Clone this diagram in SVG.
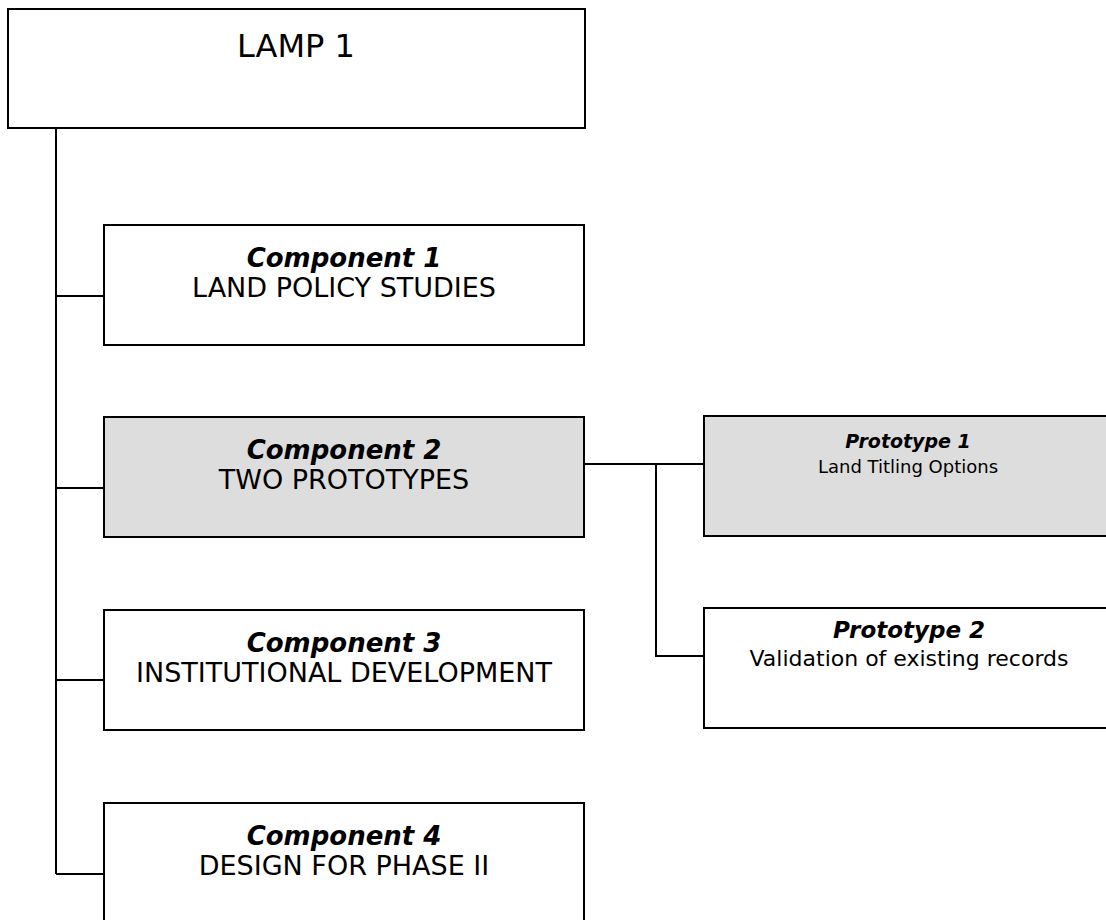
<svg xmlns="http://www.w3.org/2000/svg" width="1106" height="920" viewBox="0 0 1106 920">
<style>
.box{fill:#ffffff;stroke:#000;stroke-width:2}
.gray{fill:#dddddd;stroke:#000;stroke-width:2}
.ln{stroke:#000;stroke-width:2;fill:none}
text{font-family:"DejaVu Sans",sans-serif;fill:#000;text-anchor:middle}
.t{font-size:26px;font-weight:bold;font-style:italic}
.s{font-size:27px}
</style>
<rect width="1106" height="920" fill="#fff"/>
<g id="connectors">
<path class="ln" d="M56 128 V874"/>
<path class="ln" d="M56 296 H104"/>
<path class="ln" d="M56 488 H104"/>
<path class="ln" d="M56 680 H104"/>
<path class="ln" d="M56 874 H104"/>
<path class="ln" d="M584 464 H704"/>
<path class="ln" d="M656 464 V656 H704"/>
</g>
<g id="lamp1">
<rect class="box" x="8" y="9" width="577" height="119"/>
<text x="296" y="57" style="font-size:32px">LAMP 1</text>
</g>
<g id="component1">
<rect class="box" x="104" y="225" width="480" height="120"/>
<text class="t" x="344" y="267">Component 1</text>
<text class="s" x="344" y="297">LAND POLICY STUDIES</text>
</g>
<g id="component2">
<rect class="gray" x="104" y="417" width="480" height="120"/>
<text class="t" x="344" y="459">Component 2</text>
<text class="s" x="344" y="489">TWO PROTOTYPES</text>
</g>
<g id="component3">
<rect class="box" x="104" y="610" width="480" height="120"/>
<text class="t" x="344" y="652">Component 3</text>
<text class="s" x="344" y="682">INSTITUTIONAL DEVELOPMENT</text>
</g>
<g id="component4">
<rect class="box" x="104" y="803" width="480" height="130"/>
<text class="t" x="344" y="845">Component 4</text>
<text class="s" x="344" y="875">DESIGN FOR PHASE II</text>
</g>
<g id="prototype1">
<rect class="gray" x="704" y="416" width="420" height="120"/>
<text x="908" y="448" style="font-size:19px;font-weight:bold;font-style:italic">Prototype 1</text>
<text x="908" y="473" style="font-size:18px">Land Titling Options</text>
</g>
<g id="prototype2">
<rect class="box" x="704" y="608" width="420" height="120"/>
<text x="909" y="638" style="font-size:23px;font-weight:bold;font-style:italic">Prototype 2</text>
<text x="909" y="666" style="font-size:22px">Validation of existing records</text>
</g>
</svg>
